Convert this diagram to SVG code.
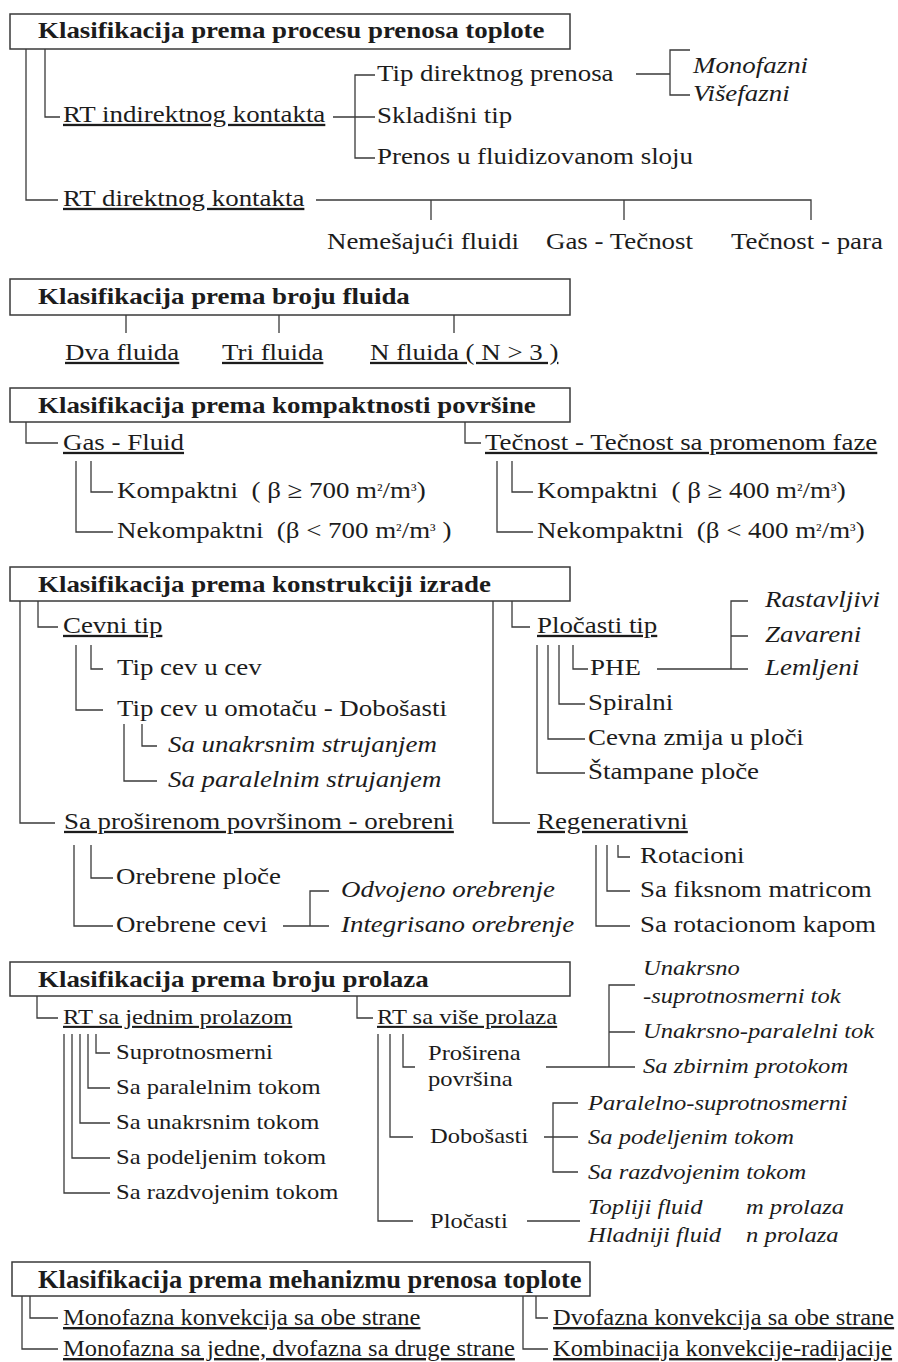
<svg xmlns="http://www.w3.org/2000/svg" width="898" height="1362" viewBox="0 0 898 1362">
<style>
text{font-family:"Liberation Serif","Times New Roman",serif;fill:#1c1c1c;white-space:pre}
.h{font-weight:bold;font-size:23px}
.r{font-size:23px}
.s{font-size:21px}
.i{font-style:italic}
.u{text-decoration:underline}
.h6{font-weight:bold;font-size:25px}
.r6{font-size:24px}
.sup{font-size:16px}
.box{fill:#fff;stroke:#3a3a3a;stroke-width:1.5}
.c path{fill:none;stroke:#3a3a3a;stroke-width:1.3}
</style>
<rect width="898" height="1362" fill="#fff"/>
<g class="c" id="connectors">
<path d="M26 49V200H58M45 49V117H60M333 117H355M375 75H355V158H375M355 117H375M636 74H670M690 50H670V95H690M316 200H811V220M431 200V220M624 200V220"/>
<path d="M126 315V333M279 315V333M454 315V333"/>
<path d="M26 422V443H58M465 422V443H481M91 461V492H113M76 461V532H113M512 461V492H533M497 461V532H533"/>
<path d="M20 601V823H55M38 601V627H58M91 645V669H103M76 645V710H103M142 724V746H157M124 724V781H157"/>
<path d="M512 601V627H530M493 601V823H530M573 645V669H588M559 645V704H585M548 645V739H585M537 645V773H585M657 669H731M748 601H731V669H748M731 636H748"/>
<path d="M91 845V878H113M74 845V926H113M283 926H329M329 891H310V926M618 845V857H630M607 845V891H630M596 845V926H630"/>
<path d="M37 996V1018H58M357 996V1018H373M96 1034V1053H110M88 1034V1088H110M80 1034V1123H110M72 1034V1158H110M64 1034V1193H110"/>
<path d="M403 1034V1067H415M390 1034V1137H413M378 1034V1221H413M546 1067H635M635 985H609V1067M609 1032H635M544 1137H578M578 1103H553V1172H578M527 1221H580"/>
<path d="M30 1296V1318H58M22 1296V1349H58M536 1296V1318H548M523 1296V1349H548"/>
</g>
<g id="s1-title"><rect class="box" x="10" y="14" width="560" height="35"/><text class="h" transform="translate(38 38) scale(1.17 1)">Klasifikacija prema procesu prenosa toplote</text></g>
<g id="s1-indirect"><text class="r u" transform="translate(63 122) scale(1.17 1)">RT indirektnog kontakta</text></g>
<g id="s1-tipdir"><text class="r" transform="translate(377 81) scale(1.17 1)">Tip direktnog prenosa</text></g>
<g id="s1-mono"><text class="r i" transform="translate(693 73) scale(1.17 1)">Monofazni</text></g>
<g id="s1-vise"><text class="r i" transform="translate(693 101) scale(1.17 1)">Višefazni</text></g>
<g id="s1-sklad"><text class="r" transform="translate(377 123) scale(1.17 1)">Skladišni tip</text></g>
<g id="s1-fluid"><text class="r" transform="translate(377 164) scale(1.17 1)">Prenos u fluidizovanom sloju</text></g>
<g id="s1-direct"><text class="r u" transform="translate(63 206) scale(1.17 1)">RT direktnog kontakta</text></g>
<g id="s1-nem"><text class="r" transform="translate(327 249) scale(1.17 1)">Nemešajući fluidi</text></g>
<g id="s1-gas"><text class="r" transform="translate(546 249) scale(1.17 1)">Gas - Tečnost</text></g>
<g id="s1-para"><text class="r" transform="translate(731 249) scale(1.17 1)">Tečnost - para</text></g>

<g id="s2-title"><rect class="box" x="10" y="279" width="560" height="36"/><text class="h" transform="translate(38 304) scale(1.17 1)">Klasifikacija prema broju fluida</text></g>
<g id="s2-dva"><text class="r u" transform="translate(65 360) scale(1.17 1)">Dva fluida</text></g>
<g id="s2-tri"><text class="r u" transform="translate(222 360) scale(1.17 1)">Tri fluida</text></g>
<g id="s2-n"><text class="r u" transform="translate(370 360) scale(1.17 1)">N fluida ( N &gt; 3 )</text></g>

<g id="s3-title"><rect class="box" x="10" y="388" width="560" height="34"/><text class="h" transform="translate(38 413) scale(1.17 1)">Klasifikacija prema kompaktnosti površine</text></g>
<g id="s3-gas"><text class="r u" transform="translate(63 450) scale(1.17 1)">Gas - Fluid</text></g>
<g id="s3-tec"><text class="r u" transform="translate(485 450) scale(1.17 1)">Tečnost - Tečnost sa promenom faze</text></g>
<g id="s3-k700"><text class="r" transform="translate(117 498) scale(1.17 1)">Kompaktni  ( β ≥ 700 m<tspan class="sup" dy="-3">²</tspan><tspan dy="3">/m</tspan><tspan class="sup" dy="-3">³</tspan><tspan dy="3">)</tspan></text></g>
<g id="s3-n700"><text class="r" transform="translate(117 538) scale(1.17 1)">Nekompaktni  (β &lt; 700 m<tspan class="sup" dy="-3">²</tspan><tspan dy="3">/m</tspan><tspan class="sup" dy="-3">³</tspan><tspan dy="3"> )</tspan></text></g>
<g id="s3-k400"><text class="r" transform="translate(537 498) scale(1.17 1)">Kompaktni  ( β ≥ 400 m<tspan class="sup" dy="-3">²</tspan><tspan dy="3">/m</tspan><tspan class="sup" dy="-3">³</tspan><tspan dy="3">)</tspan></text></g>
<g id="s3-n400"><text class="r" transform="translate(537 538) scale(1.17 1)">Nekompaktni  (β &lt; 400 m<tspan class="sup" dy="-3">²</tspan><tspan dy="3">/m</tspan><tspan class="sup" dy="-3">³</tspan><tspan dy="3">)</tspan></text></g>

<g id="s4-title"><rect class="box" x="10" y="567" width="560" height="34"/><text class="h" transform="translate(38 592) scale(1.17 1)">Klasifikacija prema konstrukciji izrade</text></g>
<g id="s4-cevni"><text class="r u" transform="translate(63 633) scale(1.17 1)">Cevni tip</text></g>
<g id="s4-cevucev"><text class="r" transform="translate(117 675) scale(1.17 1)">Tip cev u cev</text></g>
<g id="s4-omot"><text class="r" transform="translate(117 716) scale(1.17 1)">Tip cev u omotaču - Dobošasti</text></g>
<g id="s4-unakr"><text class="r i" transform="translate(168 752) scale(1.17 1)">Sa unakrsnim strujanjem</text></g>
<g id="s4-paral"><text class="r i" transform="translate(168 787) scale(1.17 1)">Sa paralelnim strujanjem</text></g>
<g id="s4-plocasti"><text class="r u" transform="translate(537 633) scale(1.17 1)">Pločasti tip</text></g>
<g id="s4-phe"><text class="r" transform="translate(590 675) scale(1.17 1)">PHE</text></g>
<g id="s4-spir"><text class="r" transform="translate(588 710) scale(1.17 1)">Spiralni</text></g>
<g id="s4-zmija"><text class="r" transform="translate(588 745) scale(1.17 1)">Cevna zmija u ploči</text></g>
<g id="s4-stamp"><text class="r" transform="translate(588 779) scale(1.17 1)">Štampane ploče</text></g>
<g id="s4-rast"><text class="r i" transform="translate(765 607) scale(1.17 1)">Rastavljivi</text></g>
<g id="s4-zav"><text class="r i" transform="translate(765 642) scale(1.17 1)">Zavareni</text></g>
<g id="s4-lem"><text class="r i" transform="translate(765 675) scale(1.17 1)">Lemljeni</text></g>
<g id="s4-orebreni"><text class="r u" transform="translate(64 829) scale(1.17 1)">Sa proširenom površinom - orebreni</text></g>
<g id="s4-oploce"><text class="r" transform="translate(116 884) scale(1.17 1)">Orebrene ploče</text></g>
<g id="s4-ocevi"><text class="r" transform="translate(116 932) scale(1.17 1)">Orebrene cevi</text></g>
<g id="s4-odv"><text class="r i" transform="translate(341 897) scale(1.17 1)">Odvojeno orebrenje</text></g>
<g id="s4-int"><text class="r i" transform="translate(341 932) scale(1.17 1)">Integrisano orebrenje</text></g>
<g id="s4-regen"><text class="r u" transform="translate(537 829) scale(1.17 1)">Regenerativni</text></g>
<g id="s4-rot"><text class="r" transform="translate(640 863) scale(1.17 1)">Rotacioni</text></g>
<g id="s4-fiks"><text class="r" transform="translate(640 897) scale(1.17 1)">Sa fiksnom matricom</text></g>
<g id="s4-kapa"><text class="r" transform="translate(640 932) scale(1.17 1)">Sa rotacionom kapom</text></g>

<g id="s5-title"><rect class="box" x="10" y="962" width="560" height="34"/><text class="h" transform="translate(38 987) scale(1.17 1)">Klasifikacija prema broju prolaza</text></g>
<g id="s5-jedan"><text class="s u" transform="translate(63 1024) scale(1.17 1)">RT sa jednim prolazom</text></g>
<g id="s5-supr"><text class="s" transform="translate(116 1059) scale(1.17 1)">Suprotnosmerni</text></g>
<g id="s5-paral"><text class="s" transform="translate(116 1094) scale(1.17 1)">Sa paralelnim tokom</text></g>
<g id="s5-unakr"><text class="s" transform="translate(116 1129) scale(1.17 1)">Sa unakrsnim tokom</text></g>
<g id="s5-podel"><text class="s" transform="translate(116 1164) scale(1.17 1)">Sa podeljenim tokom</text></g>
<g id="s5-razdv"><text class="s" transform="translate(116 1199) scale(1.17 1)">Sa razdvojenim tokom</text></g>
<g id="s5-vise"><text class="s u" transform="translate(377 1024) scale(1.17 1)">RT sa više prolaza</text></g>
<g id="s5-prosir"><text class="s" transform="translate(428 1060) scale(1.17 1)">Proširena</text><text class="s" transform="translate(428 1086) scale(1.17 1)">površina</text></g>
<g id="s5-dobos"><text class="s" transform="translate(430 1143) scale(1.17 1)">Dobošasti</text></g>
<g id="s5-ploc"><text class="s" transform="translate(430 1228) scale(1.17 1)">Pločasti</text></g>
<g id="s5-unsup"><text class="s i" transform="translate(643 975) scale(1.17 1)">Unakrsno</text><text class="s i" transform="translate(643 1003) scale(1.17 1)">-suprotnosmerni tok</text></g>
<g id="s5-unpar"><text class="s i" transform="translate(643 1038) scale(1.17 1)">Unakrsno-paralelni tok</text></g>
<g id="s5-zbir"><text class="s i" transform="translate(643 1073) scale(1.17 1)">Sa zbirnim protokom</text></g>
<g id="s5-parsup"><text class="s i" transform="translate(588 1110) scale(1.17 1)">Paralelno-suprotnosmerni</text></g>
<g id="s5-podel2"><text class="s i" transform="translate(588 1144) scale(1.17 1)">Sa podeljenim tokom</text></g>
<g id="s5-razdv2"><text class="s i" transform="translate(588 1179) scale(1.17 1)">Sa razdvojenim tokom</text></g>
<g id="s5-topl"><text class="s i" transform="translate(588 1214) scale(1.17 1)">Topliji fluid</text><text class="s i" transform="translate(746 1214) scale(1.17 1)">m prolaza</text></g>
<g id="s5-hlad"><text class="s i" transform="translate(588 1242) scale(1.17 1)">Hladniji fluid</text><text class="s i" transform="translate(746 1242) scale(1.17 1)">n prolaza</text></g>

<g id="s6-title"><rect class="box" x="12" y="1262" width="578" height="34"/><text class="h6" transform="translate(38 1288) scale(1.06 1)">Klasifikacija prema mehanizmu prenosa toplote</text></g>
<g id="s6-mono"><text class="r6 u" transform="translate(63 1325) scale(1.02 1)">Monofazna konvekcija sa obe strane</text></g>
<g id="s6-monodvo"><text class="r6 u" transform="translate(63 1356) scale(1.02 1)">Monofazna sa jedne, dvofazna sa druge strane</text></g>
<g id="s6-dvo"><text class="r6 u" transform="translate(553 1325) scale(1.02 1)">Dvofazna konvekcija sa obe strane</text></g>
<g id="s6-komb"><text class="r6 u" transform="translate(553 1356) scale(1.02 1)">Kombinacija konvekcije-radijacije</text></g>
</svg>
